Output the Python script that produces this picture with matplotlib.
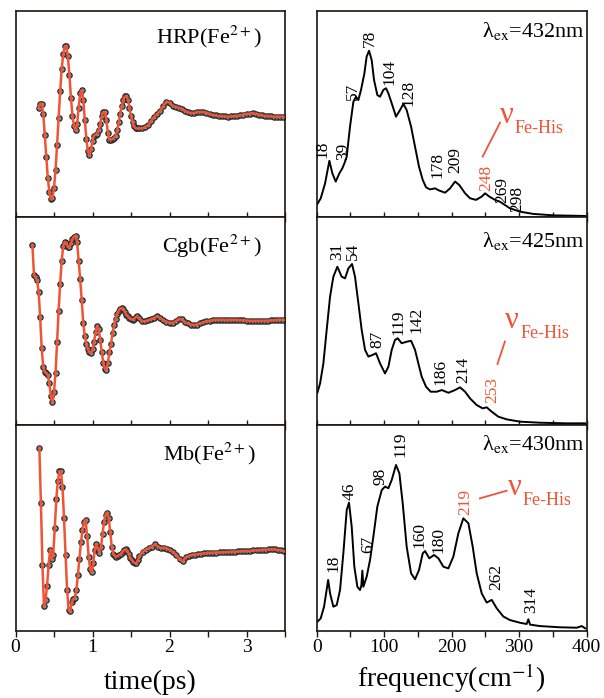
import numpy as np
import matplotlib
matplotlib.use("Agg")
import matplotlib.pyplot as plt
from matplotlib.ticker import MultipleLocator

plt.rcParams['font.family'] = ['Liberation Serif', 'DejaVu Serif']
plt.rcParams['mathtext.fontset'] = 'stix'

# --- time-domain data (arb. units), early part every 0.02 ps, tail every 0.04 ps ---
HRP_T0, HRP_T1 = 0.30, 1.64
hrp_early = [53, 55, 55, 50, 40, 29, 19, 12, 8.5, 9,
             14, 23, 35, 48, 61, 72, 79, 83, 83, 78,
             69, 58, 49, 44, 42, 45, 53, 60, 61.5, 57,
             47, 38, 32, 30, 33, 37, 39.5, 40, 40.5, 42,
             45, 49, 51, 51, 47, 41, 37.5, 37.5, 38, 38.5,
             39.5, 42, 46, 50, 54, 57, 58.5, 58.7, 57, 53,
             49, 46, 44, 43, 43, 43]
hrp_tail = [43, 43.5, 44.5, 46.5, 48.5, 50, 51.5, 54, 56, 55.5,
            54, 53.5, 53, 52.5, 51.5, 50.8, 50.5, 50.5, 51, 51,
            51, 50.6, 50, 49.6, 49.3, 49, 49, 48.8, 48.7, 48.8,
            49, 49.1, 49.3, 49.7, 50, 50.2, 50.3, 50.1, 49.7, 49.4,
            49.1, 49, 48.8, 48.7, 48.7, 48.7, 48.7]

CGB_T0, CGB_T1 = 0.22, 1.64
cgb_early = [86.5, 72, 71, 69.5, 64, 52, 37, 28, 25.5, 25,
             24, 20, 14, 11, 16, 25, 40, 55, 68, 79,
             86, 88, 87.5, 85.5, 85.5, 87.5, 89.5, 90.5, 91, 88,
             79, 70, 60, 49, 43, 39, 36.5, 35, 34.5, 36.5,
             40, 44.5, 47.5, 46, 41, 35, 30, 27, 26.5, 30,
             35, 39, 44, 48, 51, 53.5, 55, 56, 56.2, 55.8,
             54.5, 53, 52.2, 51.5, 51, 50.6, 51, 51.8, 52.2, 51.5]
cgb_tail = [50, 49.8, 50.3, 50.8, 51.5, 52.2, 51.5, 50.3, 49.6, 49.2,
            49, 49.8, 51, 50.8, 49.5, 48.8, 48.3, 48.1, 48.3, 48.8,
            49.3, 49.8, 50.1, 50.4, 50.6, 50.6, 50.6, 50.5, 50.5, 50.6,
            50.6, 50.5, 50.4, 50.3, 50.2, 50.1, 50.1, 50.1, 50.1, 50.1,
            50.1, 50.2, 50.3, 50.4, 50.5, 50.6, 50.6]

MB_T0, MB_T1 = 0.31, 1.65
mb_early = [89, 62, 32, 12, 15, 22, 32, 39.5, 35, 37,
            50, 64, 73, 77.5, 77.5, 70, 55, 37, 20, 10,
            9.5, 14, 15.5, 16, 20, 27, 35, 43, 49, 53,
            54, 46, 36, 30, 28.5, 33, 39.5, 42, 40, 38,
            41, 47, 53, 56.5, 57.5, 55, 48, 41, 37.5, 36.5,
            36, 36.5, 37, 37.5, 38.5, 39.3, 39.6, 39, 37.5, 35.5,
            34.5, 33.5, 33, 32.8, 34.5, 36.3]
mb_tail = [38.5, 39.5, 40.2, 41, 42, 41, 40.2, 40.5, 40, 39.2,
           38.2, 36.8, 34.8, 33.8, 35.8, 36.5, 36.9, 37.1, 37.3, 37.5,
           37.7, 37.9, 38, 38.1, 38.1, 38.2, 38.2, 38.3, 38.4, 38.5,
           38.5, 38.6, 38.7, 38.8, 38.8, 38.9, 39.1, 39.2, 39.3, 39.4,
           39.5, 39.6, 39.6, 39.6, 39.4, 39.1, 38.8]

# --- spectra (cm-1, arb. units) ---
hrp_f = [1, 6, 12.4, 18.8, 23.2, 28.2, 33.6, 38, 41, 44.5, 49.4, 54.4, 58.3, 61.8,
         65.7, 70.7, 74, 77.6, 81.5, 85, 89.9, 93.9, 98.8, 102.8, 106.3, 111.2,
         117.6, 123.5, 128.5, 133.4, 139.9, 145.8, 151.7, 157.2, 162.1, 168,
         175.4, 181.9, 190.3, 197.7, 205.1, 211.5, 220, 227.3, 236.2, 244.6,
         249.6, 256, 264.4, 271.8, 279.2, 286.6, 301.5, 321, 351, 398]
hrp_i = [6.3, 9.1, 16.3, 27.3, 21.2, 17.2, 21.2, 23.6, 26, 29.3, 43.9, 56, 58.4, 56.8,
         61.7, 69.7, 77.8, 80.7, 76.2, 66.5, 59.2, 58.4, 61.7, 62.5, 60, 55.2,
         48.7, 51.9, 54.9, 51.9, 43.9, 34.1, 24.4, 18, 14.4, 13.4,
         13.9, 12.8, 11.8, 13.9, 17.2, 15.5, 11.5, 9.1, 8.3, 9.9,
         11.5, 9.9, 8.3, 7.4, 5.8, 4.2, 2.6, 1.5, 0.8, 0.5]

cgb_f = [1, 5, 9.9, 14.8, 19.8, 24.7, 30.6, 37, 42, 47, 52.4, 56.8, 61.8, 66.7,
         71.7, 76.6, 83, 88, 93.9, 101.3, 106.3, 111.2, 116.1, 120.1, 126, 133,
         139.9, 145.8, 150.7, 155.7, 162.1, 169, 177.9, 185.5, 195.2, 205.1, 212.5,
         220, 227.3, 237.2, 246.1, 252, 259.5, 269.3, 281.7, 301.5, 331, 370.6, 398]
cgb_i = [15.5, 20, 29.6, 45.7, 61.7, 71.3, 76.1, 71.3, 70.5, 75.3, 77.4, 71.3, 58.5, 45.7,
         36.1, 32.9, 33.7, 34.5, 29.6, 24.8, 28, 36.1, 40.9, 41.7, 39.3, 40,
         40.5, 36.1, 29.6, 23.2, 18.4, 16, 16, 16.8, 15.5, 16.8, 18.1,
         16, 12.8, 9.6, 8, 8.5, 6.4, 4, 2.7, 1.6, 1.1, 0.8, 0.8]

mb_f = [1, 5.9, 10.9, 17, 19.8, 24.7, 29.7, 34.6, 39.5, 44.5, 47.9, 51.9, 55.8, 60.3,
        64.2, 66.2, 67.7, 69.2, 74.1, 79.1, 84, 89.9, 96.4, 101.3, 106.3, 111.2,
        117.6, 122.6, 127.5, 133.4, 139.9, 145.8, 151.7, 157.2, 160.6, 167, 174,
        180.4, 187.8, 195.2, 202.6, 210, 217.4, 224.9, 231.3, 237.2, 244.6, 252,
        259.5, 266.9, 276.8, 286.6, 301.5, 311.3, 313.8, 316.3, 331, 360.8, 385.5,
        392.9, 398]
mb_i = [4.5, 6.1, 11.8, 24.8, 18.3, 11.8, 12.6, 19.9, 37.7, 58.7, 62.3, 50.6, 31.2, 21.5,
        19.9, 22, 29.3, 21.5, 26.4, 34.5, 45.8, 60.4, 68.4, 70.1, 69.3, 73.3,
        80.6, 76.5, 62, 40.9, 28, 25.1, 29.6, 37.7, 38.8, 35.3, 36.9,
        35.3, 31.2, 30.4, 36.1, 47.4, 54.7, 52.3, 40.9, 28, 18.3, 13.8,
        15.1, 11, 7, 5.3, 4, 3.4, 5.7, 3.1, 2.4, 1.8, 1.6,
        2.4, 1.3]

# peak labels: (text, freq, height)
hrp_peaks = [("18", 8.4, 28.5), ("39", 39.5, 27.7), ("57", 54.4, 56.8), ("78", 79, 82.7),
             ("104", 107.7, 64.1), ("128", 135.9, 53.9), ("178", 179, 18.8), ("209", 205, 21.2),
             ("248", 251, 12.8), ("269", 275, 6.6), ("298", 297.5, 2.6)]
cgb_peaks = [("31", 29.7, 79.3), ("54", 54.4, 79.3), ("87", 90, 36.9), ("119", 121, 43.3),
             ("142", 147.3, 44.1), ("186", 182.9, 19.2), ("214", 217.4, 20), ("253", 261, 10.4)]
mb_peaks = [("18", 24.7, 28.8), ("46", 49.4, 63.6), ("67", 76.6, 37.7), ("98", 93.9, 70.9),
            ("119", 123.5, 84.6), ("160", 152.2, 40.1), ("180", 180.4, 37.7), ("219", 220.9, 56.3),
            ("262", 266.9, 19.9), ("314", 317.3, 8.6)]
red_peaks = {"248", "253", "219"}

samples = ["HRP(Fe$^{2+}$)", "Cgb(Fe$^{2+}$)", "Mb(Fe$^{2+}$)"]
wavelengths = ["432", "425", "430"]

RED = '#ee5537'
EDGE = '#1e1410'

W, H = 604, 698
rows = [(11, 217), (217, 425), (425, 631)]
fig = plt.figure(figsize=(W / 100, H / 100), dpi=100)

time_data = [(HRP_T0, hrp_early, HRP_T1, hrp_tail),
             (CGB_T0, cgb_early, CGB_T1, cgb_tail),
             (MB_T0, mb_early, MB_T1, mb_tail)]
spectra = [(hrp_f, hrp_i, hrp_peaks), (cgb_f, cgb_i, cgb_peaks), (mb_f, mb_i, mb_peaks)]
# where the nu_Fe-His tag and its pointer sit (freq, height)
nu_pos = [(271, 45.5), (279, 46.5), (283, 66)]
nu_line = [((246, 29.3), (271.8, 45.8)), ((268, 29.3), (279, 40.1)), ((242, 64.4), (281.7, 68.1))]
label_y = [0.845, 0.827, 0.83]
label_x = [0.913, 0.913, 0.895]
lam_y = [0.875, 0.857, 0.879]


def style(ax, bottom_row):
    for s in ax.spines.values():
        s.set_color(EDGE)
        s.set_linewidth(1.2)
    ax.set_yticks([])
    ax.set_ylim(0, 100)
    ax.tick_params(axis='x', which='both', direction='out' if bottom_row else 'inout',
                   length=4 if bottom_row else 7, width=1, color=EDGE,
                   labelsize=14, labelbottom=bottom_row, pad=2)


for r, (top, bot) in enumerate(rows):
    bottom_row = r == 2
    y0 = (H - bot) / H
    h = (bot - top) / H

    # time domain panel
    ax = fig.add_axes([15.5 / W, y0, 269.5 / W, h])
    t0, early, t1, tail = time_data[r]
    t = np.concatenate([t0 + 0.02 * np.arange(len(early)), t1 + 0.04 * np.arange(len(tail))])
    y = np.array(early + tail)
    ax.plot(t, y, 'o', ms=3.8, mfc='#8c8c8c', mec='#262626', mew=0.9, zorder=2)
    ax.plot(t, y, '-', color=RED, lw=1.8, zorder=3)
    ax.set_xlim(0, 3.5)
    ax.xaxis.set_major_locator(MultipleLocator(1))
    ax.xaxis.set_minor_locator(MultipleLocator(0.5))
    style(ax, bottom_row)
    ax.text(label_x[r], label_y[r], samples[r], transform=ax.transAxes,
            ha='right', va='baseline', fontsize=16)
    if bottom_row:
        ax.set_xlabel("time(ps)", fontsize=20, labelpad=10)

    # frequency domain panel
    ax2 = fig.add_axes([316.7 / W, y0, 269.8 / W, h])
    f, inten, peaks = spectra[r]
    ax2.plot(f, inten, '-', color='black', lw=1.4)
    ax2.set_xlim(0, 400)
    ax2.xaxis.set_major_locator(MultipleLocator(100))
    ax2.xaxis.set_minor_locator(MultipleLocator(50))
    style(ax2, bottom_row)
    for txt, px, py in peaks:
        ax2.text(px, py, txt, rotation=90, ha='center', va='bottom', fontsize=12.5,
                 color=RED if txt in red_peaks else 'black')
    ax2.text(0.994, lam_y[r], "λ$_{\\mathrm{ex}}$=" + wavelengths[r] + "nm",
             transform=ax2.transAxes, ha='right', va='baseline', fontsize=16)
    nx, ny = nu_pos[r]
    ax2.text(nx, ny, "ν", color=RED, fontsize=22, ha='left', va='baseline')
    ax2.annotate("Fe-His", xy=(nx, ny), xytext=(11, -7), textcoords='offset points',
                 color=RED, fontsize=13, ha='left', va='baseline')
    (xa, ya), (xb, yb) = nu_line[r]
    ax2.plot([xa, xb], [ya, yb], color=RED, lw=1.3)
    if bottom_row:
        ax2.set_xlabel("frequency(cm$^{-1}$)", fontsize=20, labelpad=4)

fig.savefig("out.png", dpi=100)
